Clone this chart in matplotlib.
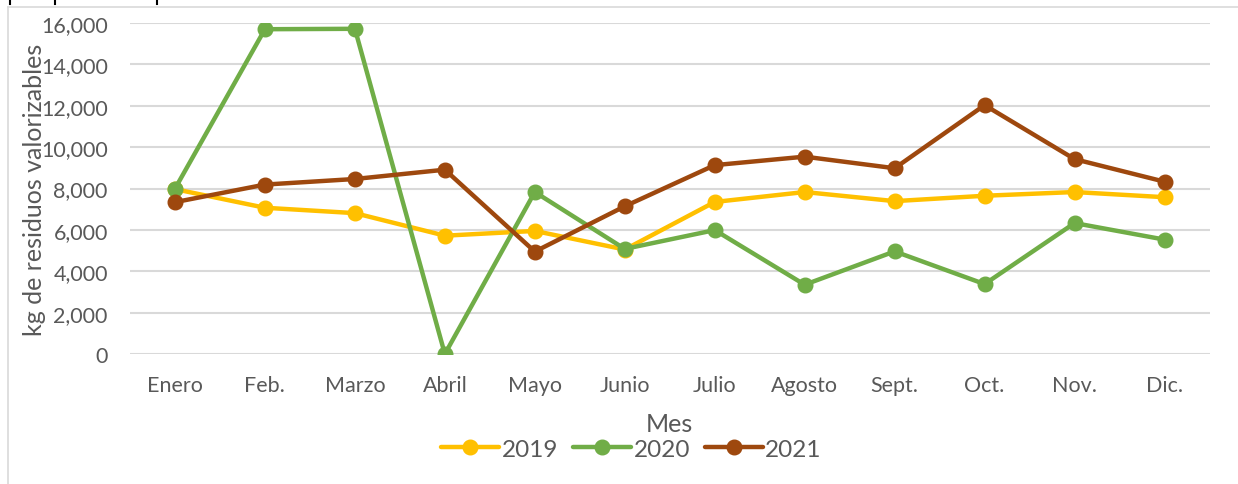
import numpy as np
import matplotlib
matplotlib.use('Agg')
import matplotlib.pyplot as plt
from matplotlib.lines import Line2D

meses = ['Enero', 'Feb.', 'Marzo', 'Abril', 'Mayo', 'Junio', 'Julio',
         'Agosto', 'Sept.', 'Oct.', 'Nov.', 'Dic.']
v2019 = [7970, 7070, 6810, 5720, 5950, 5050, 7350, 7830, 7390, 7650, 7830, 7580]
v2020 = [7990, 15700, 15720, 0, 7830, 5080, 5990, 3350, 4960, 3380, 6330, 5530]
v2021 = [7340, 8190, 8460, 8910, 4950, 7140, 9130, 9540, 8980, 12030, 9420, 8330]
series = [('2019', v2019, '#FFC000'), ('2020', v2020, '#70AD47'), ('2021', v2021, '#9E480E')]

plt.rcParams['font.family'] = ['Lato', 'DejaVu Sans']
gris = '#595959'

fig = plt.figure(figsize=(12.38, 4.85), dpi=100)
ax = fig.add_axes([0.105, 0.268, 0.872, 0.6825])

x = np.arange(len(meses))
for nombre, vals, color in series:
    ax.plot(x, vals, color=color, lw=3.2, marker='o', ms=10.5, label=nombre,
            solid_capstyle='round')

ax.set_xlim(-0.5, len(meses) - 0.5)
ax.set_ylim(0, 16000)
ax.set_yticks(np.arange(0, 16001, 2000))
ax.yaxis.set_major_formatter(matplotlib.ticker.FuncFormatter(lambda v, p: '{:,.0f}'.format(v)))
ax.set_xticks(x)
ax.set_xticklabels(meses)
ax.tick_params(axis='both', length=0, labelsize=15.5, labelcolor=gris)
ax.tick_params(axis='y', pad=16)
ax.tick_params(axis='x', pad=15)
ax.grid(axis='y', color='#D9D9D9', lw=1.5)
ax.set_axisbelow(True)
for s in ax.spines.values():
    s.set_visible(False)

ax.set_ylabel('kg de residuos valorizables', fontsize=18, color=gris)
ax.yaxis.set_label_coords(-0.078, 0.5)
fig.text(0.541, 0.124, 'Mes', fontsize=18, color=gris, ha='center', va='center')
fig.legend(loc='center', bbox_to_anchor=(0.51, 0.072), ncol=3, frameon=False,
           fontsize=17.5, labelcolor=gris, handlelength=2.4, handletextpad=0.1,
           columnspacing=0.6)

# marco exterior
fig.add_artist(Line2D([8 / 1238, 8 / 1238], [0, 477 / 485], color='#D9D9D9', lw=1.2))
fig.add_artist(Line2D([8 / 1238, 1], [477 / 485, 477 / 485], color='#D9D9D9', lw=1.2))
# restos de texto cortado arriba
for px in [10, 55, 157]:
    fig.add_artist(Line2D([px / 1238, px / 1238], [1, 480 / 485], color='black', lw=1.5))

fig.savefig('out.png', dpi=100)
